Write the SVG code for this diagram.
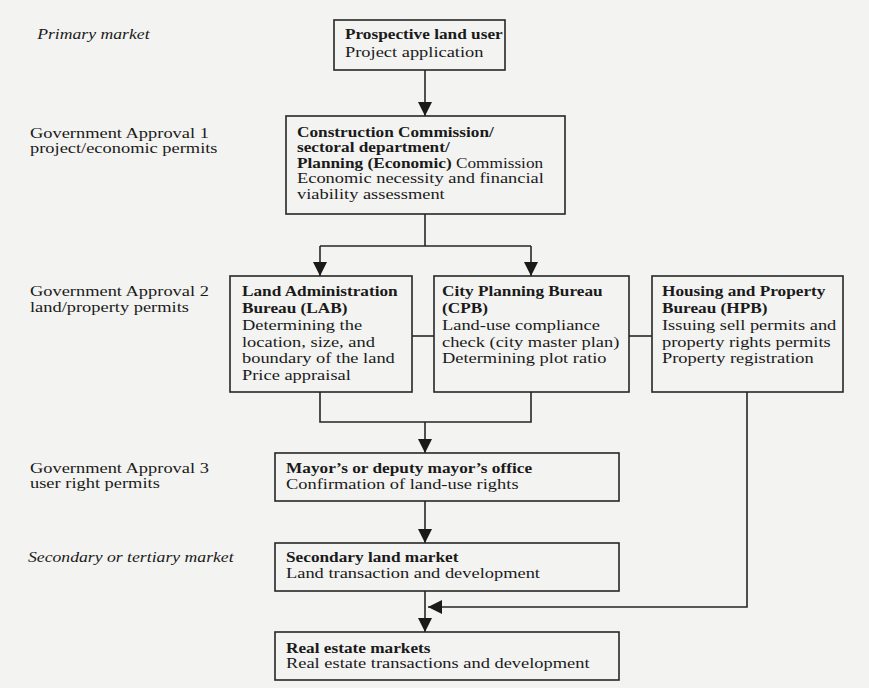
<svg xmlns="http://www.w3.org/2000/svg" width="869" height="688" viewBox="0 0 869 688">
  <defs>
    <style>
      text { font-family: "Liberation Serif", "Times New Roman", serif; font-size: 14.5px; fill: #1a1a1a; transform-box: fill-box; transform-origin: 0 0; }
      .b { font-weight: bold; transform: scaleX(1.19); }
      .r { transform: scaleX(1.27); }
      .i { font-style: italic; transform: scaleX(1.22); }
      .box { fill: none; stroke: #262626; stroke-width: 1.6; }
      .line { fill: none; stroke: #262626; stroke-width: 1.6; }
    </style>
    <marker id="arrow" markerUnits="userSpaceOnUse" markerWidth="14" markerHeight="14" refX="13" refY="6.5" orient="auto" viewBox="0 0 13 13">
      <path d="M0,0 L13,6.5 L0,13 z" fill="#1a1a1a"/>
    </marker>
  </defs>

  <rect width="869" height="688" fill="#f3f3f1"/>

  <!-- stage labels on the left -->
  <g id="stage-labels">
    <text class="i" x="37" y="39">Primary market</text>
    <text class="r" x="30" y="138">Government Approval 1</text>
    <text class="r" x="30" y="153">project/economic permits</text>
    <text class="r" x="30" y="296">Government Approval 2</text>
    <text class="r" x="30" y="312">land/property permits</text>
    <text class="r" x="30" y="473">Government Approval 3</text>
    <text class="r" x="30" y="488">user right permits</text>
    <text class="i" x="28" y="562">Secondary or tertiary market</text>
  </g>

  <!-- connectors -->
  <g id="connectors">
    <path class="line" d="M425,70 V116" marker-end="url(#arrow)"/>
    <path class="line" d="M425,214 V246"/>
    <path class="line" d="M320,246 H531"/>
    <path class="line" d="M320,246 V276" marker-end="url(#arrow)"/>
    <path class="line" d="M531,246 V276" marker-end="url(#arrow)"/>
    <path class="line" d="M412,336 H434"/>
    <path class="line" d="M629,336 H652"/>
    <path class="line" d="M320,392 V422 H531 V392"/>
    <path class="line" d="M425,422 V453" marker-end="url(#arrow)"/>
    <path class="line" d="M425,501 V543" marker-end="url(#arrow)"/>
    <path class="line" d="M425,591 V632" marker-end="url(#arrow)"/>
    <path class="line" d="M747,392 V607 H428" marker-end="url(#arrow)"/>
  </g>

  <g id="land-user">
    <rect class="box" x="334" y="20" width="171" height="50"/>
    <text class="b" x="345" y="39">Prospective land user</text>
    <text class="r" x="345" y="57">Project application</text>
  </g>

  <g id="construction-commission">
    <rect class="box" x="286" y="116" width="279" height="98"/>
    <text class="b" x="297" y="137">Construction Commission/</text>
    <text class="b" x="297" y="152.5">sectoral department/</text>
    <text class="b" x="297" y="168">Planning (Economic) <tspan font-weight="normal">Commission</tspan></text>
    <text class="r" x="297" y="183.5">Economic necessity and financial</text>
    <text class="r" x="297" y="199">viability assessment</text>
  </g>

  <g id="lab">
    <rect class="box" x="230" y="276" width="182" height="116"/>
    <text class="b" x="242" y="296">Land Administration</text>
    <text class="b" x="242" y="313">Bureau (LAB)</text>
    <text class="r" x="242" y="330">Determining the</text>
    <text class="r" x="242" y="347">location, size, and</text>
    <text class="r" x="242" y="363">boundary of the land</text>
    <text class="r" x="242" y="380">Price appraisal</text>
  </g>

  <g id="cpb">
    <rect class="box" x="434" y="276" width="195" height="116"/>
    <text class="b" x="442" y="296">City Planning Bureau</text>
    <text class="b" x="442" y="313">(CPB)</text>
    <text class="r" x="442" y="330">Land-use compliance</text>
    <text class="r" x="442" y="347">check (city master plan)</text>
    <text class="r" x="442" y="363">Determining plot ratio</text>
  </g>

  <g id="hpb">
    <rect class="box" x="652" y="276" width="191" height="116"/>
    <text class="b" x="662" y="296">Housing and Property</text>
    <text class="b" x="662" y="313">Bureau (HPB)</text>
    <text class="r" x="662" y="330">Issuing sell permits and</text>
    <text class="r" x="662" y="347">property rights permits</text>
    <text class="r" x="662" y="363">Property registration</text>
  </g>

  <g id="mayor-office">
    <rect class="box" x="275" y="453" width="344" height="48"/>
    <text class="b" x="286" y="473">Mayor’s or deputy mayor’s office</text>
    <text class="r" x="286" y="489">Confirmation of land-use rights</text>
  </g>

  <g id="secondary-market">
    <rect class="box" x="275" y="543" width="344" height="48"/>
    <text class="b" x="286" y="562">Secondary land market</text>
    <text class="r" x="286" y="578">Land transaction and development</text>
  </g>

  <g id="real-estate-markets">
    <rect class="box" x="275" y="632" width="344" height="48"/>
    <text class="b" x="286" y="653">Real estate markets</text>
    <text class="r" x="286" y="668">Real estate transactions and development</text>
  </g>
</svg>
